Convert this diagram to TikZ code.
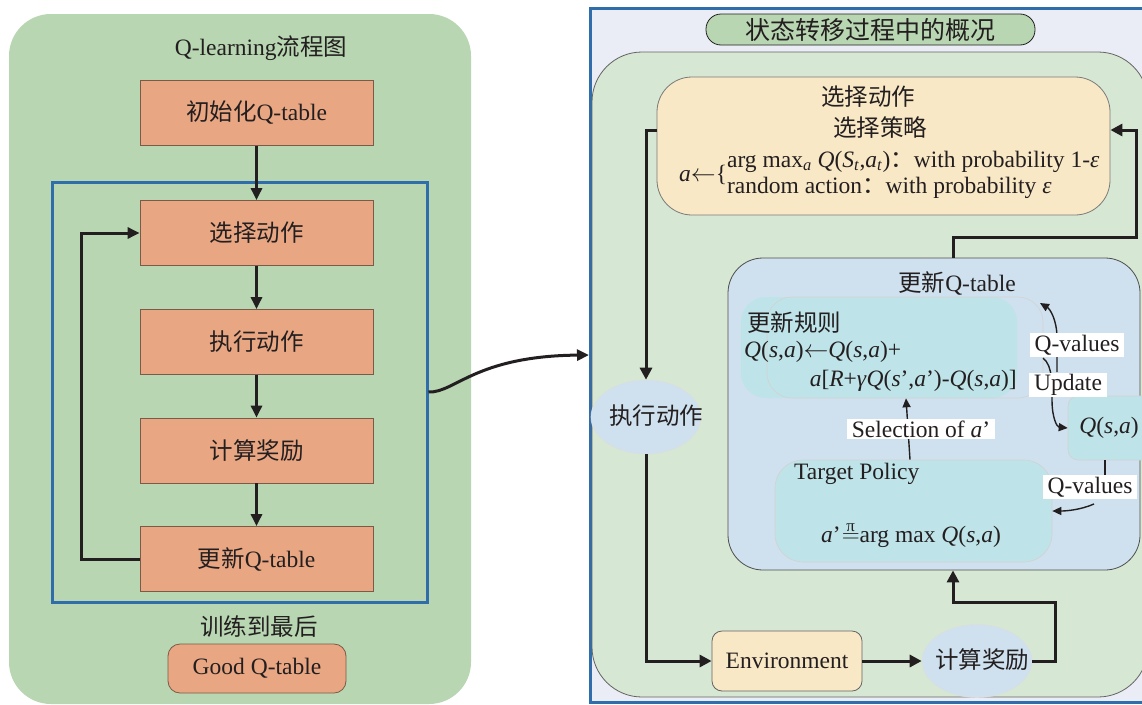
\documentclass[tikz,border=0pt]{standalone}
\usepackage{fontspec}
\setmainfont{Liberation Serif}
\newfontfamily\cjk{Noto Sans CJK SC}
\usetikzlibrary{arrows.meta,shapes.geometric}
\definecolor{ink}{HTML}{231F20}
\definecolor{lgreen}{HTML}{B8D6B1}
\definecolor{salmon}{HTML}{E9A682}
\definecolor{salmonb}{HTML}{7A5A48}
\definecolor{frameblue}{HTML}{2F6EAA}
\definecolor{rbg}{HTML}{EAEDF6}
\definecolor{pgreen}{HTML}{D6E8D3}
\definecolor{pyellow}{HTML}{F9E8C6}
\definecolor{pblue}{HTML}{CFE1EE}
\definecolor{pteal}{HTML}{BEE3E8}
\newcommand\myfs{\fontsize{23.5}{28}\selectfont}
\newcommand\mi[1]{\textit{#1}}
\tikzset{
  sbox/.style={draw=salmonb, line width=0.8pt, fill=salmon, minimum width=233pt, minimum height=65pt},
  larr/.style={draw=ink, line width=3pt, -{Triangle[length=12pt,width=11pt]}},
  rarr/.style={draw=ink, line width=3pt, -{Triangle[length=12pt,width=12pt]}},
  tarr/.style={draw=ink, line width=1.4pt, -{Triangle[length=9pt,width=8pt]}},
  tline/.style={draw=ink, line width=1.4pt},
  lab/.style={fill=white, inner xsep=5pt, inner ysep=1.5pt},
  tealbox/.style={fill=pteal, draw=ink!20, line width=0.6pt},
}
\begin{document}
\begin{tikzpicture}[x=1pt,y=-1pt,font=\myfs,text=ink,inner sep=0pt]
\path[use as bounding box] (0,0) rectangle (1142,704);
\begin{scope}
\clip (0,0) rectangle (1142,704);
% ---------- left panel ----------
\node[fill=lgreen, rounded corners=42pt, minimum width=462pt, minimum height=690pt] (lpanel) at (240,359) {};
\node[draw=frameblue, line width=3pt, minimum width=375pt, minimum height=420pt] (loop) at (239.5,392) {};
\node (lt) at (261,48) {Q-learning{\cjk 流程图}};
\node[sbox] (b1) at (256.5,113) {{\cjk 初始化}Q-table};
\node[sbox] (b2) at (256.5,233) {{\cjk 选择动作}};
\node[sbox] (b3) at (256.5,342) {{\cjk 执行动作}};
\node[sbox] (b4) at (256.5,450.5) {{\cjk 计算奖励}};
\node[sbox] (b5) at (256.5,559) {{\cjk 更新}Q-table};
\draw[larr] (b1) -- (b2);
\draw[larr] (b2) -- (b3);
\draw[larr] (b3) -- (b4);
\draw[larr] (b4) -- (b5);
\draw[larr] (b5.west) -- ++(-58,0) |- (b2.west);
\node (train) at (259,627) {{\cjk 训练到最后}};
\node[sbox, rounded corners=12pt, minimum width=178pt, minimum height=49pt] (good) at (257,668.5) {Good Q-table};
% ---------- right panel ----------
\node[fill=rbg, draw=frameblue, line width=3pt, minimum width=562pt, minimum height=694pt] (rframe) at (871,355) {};
\coordinate (cend) at (589,355);
\draw[larr] (loop.east) .. controls (455,393) and (475,356) .. (cend);
\node[fill=pgreen, draw=ink!70, line width=0.8pt, rounded corners=50pt, minimum width=556pt, minimum height=645pt] (rgreen) at (870,374.5) {};
\node[fill=lgreen, draw=ink, line width=0.8pt, rounded corners=15pt, minimum width=329pt, minimum height=31pt, font=\fontsize{25}{28}\selectfont\cjk] (rtitle) at (870.5,29.5) {状态转移过程中的概况};
% yellow selection box
\node[fill=pyellow, draw=ink!60, line width=0.8pt, rounded corners=35pt, minimum width=453pt, minimum height=138pt] (yel) at (883.5,146) {};
\node (y1) at (868,97) {{\cjk 选择动作}};
\node (y2) at (880,128) {{\cjk 选择策略}};
\node[anchor=west, font=\fontsize{23.5}{26}\selectfont] (pol1) at (679,175) {\mi{a}$\leftarrow$\{\begin{tabular}{@{}l@{}}arg max\textsubscript{\mi{a}} \mi{Q}(\mi{S}\textsubscript{\mi{t}},\mi{a}\textsubscript{\mi{t}}){\cjk ：}with probability 1-\mi{ε}\\ random action{\cjk ：}with probability \mi{ε}\end{tabular}};
% update box
\node[fill=pblue, draw=ink!80, line width=0.8pt, rounded corners=35pt, minimum width=412pt, minimum height=312pt] (upd) at (934,414) {};
\node (updt) at (957,283) {{\cjk 更新}Q-table};
\node[fill=pteal, rounded corners=25pt, minimum width=276pt, minimum height=101pt] (rulesb) at (879,347.5) {};
\node[draw=ink!20, line width=0.6pt, rounded corners=25pt, minimum width=276pt, minimum height=101pt] (rulesf) at (905,347.5) {};
\node[anchor=west] (rt) at (747,323) {{\cjk 更新规则}};
\node[anchor=west] (r1) at (744,352) {\mi{Q}(\mi{s},\mi{a})$\leftarrow$\mi{Q}(\mi{s},\mi{a})+};
\node[anchor=east] (r2) at (1017,381) {\mi{a}[\mi{R}+\mi{γ}\mi{Q}(\mi{s}’,\mi{a}’)-\mi{Q}(\mi{s},\mi{a})]};
\node[tealbox, rounded corners=28pt, minimum width=277pt, minimum height=102pt] (tgt) at (913.5,511) {};
\node[anchor=west] (tp) at (794,474) {Target Policy};
\node (pol) at (911,535) {\mi{a}’\kern1pt$\stackrel{\mbox{\fontsize{17}{17}\selectfont π}}{=}$arg max \mi{Q}(\mi{s},\mi{a})};
\node[tealbox, rounded corners=10pt, minimum width=92pt, minimum height=64pt] (qsa) at (1114,428) {};
\node (qsat) at (1109,428) {\mi{Q}(\mi{s},\mi{a})};
% inner arrows
\draw[tarr] ([xshift=-3.5pt]tgt.north) -- ([xshift=1pt]rulesf.south);
\coordinate (qv1s) at (1057,372);
\coordinate (qv1e) at (1040,303);
\draw[tarr] (qv1s) -- (1057,338) .. controls (1057,320) and (1050,309) .. (qv1e);
\coordinate (ups) at (1043,358);
\draw[tarr] (ups) .. controls (1053,366) and (1052,385) .. (1052,400) .. controls (1052,418) and (1057,427) .. (qsa.west);
\draw[tline] ([xshift=-9pt]qsa.south) -- ++(0,16);
\coordinate (qv2s) at (1094,504);
\draw[tarr] (qv2s) .. controls (1080,510) and (1066,511) .. (tgt.east);
\node[lab] (sel) at (921,429) {Selection of \mi{a}’};
\node[lab] (qv1) at (1077,345) {Q-values};
\node[lab] (upl) at (1068,385) {Update};
\node[lab] (qv2) at (1090,487) {Q-values};
% main loop on right
\node[ellipse, fill=pblue, draw=ink!15, line width=0.6pt, minimum width=110pt, minimum height=74pt] (exec) at (646,417) {};
\node (exect) at (656,416) {{\cjk 执行动作}};
\node[fill=pyellow, draw=ink!70, line width=0.8pt, rounded corners=10pt, minimum width=150pt, minimum height=60pt] (env) at (787,661) {Environment};
\node[ellipse, fill=pblue, draw=ink!15, line width=0.6pt, minimum width=110pt, minimum height=73pt] (rew) at (977,661) {};
\node (rewt) at (982,660) {{\cjk 计算奖励}};
\draw[rarr] ([yshift=16pt]yel.west) -| (exec.north);
\draw[rarr] (exec.south) |- (env.west);
\draw[rarr] (env.east) -- (rew.west);
\draw[rarr] (rew.east) -| (1055,602) -| ([xshift=19pt]upd.south);
\draw[rarr] ([xshift=19pt]upd.north) -- ++(0,-20) -| (1136,130) -- ([yshift=16pt]yel.east);
\end{scope}
\end{tikzpicture}
\end{document}
